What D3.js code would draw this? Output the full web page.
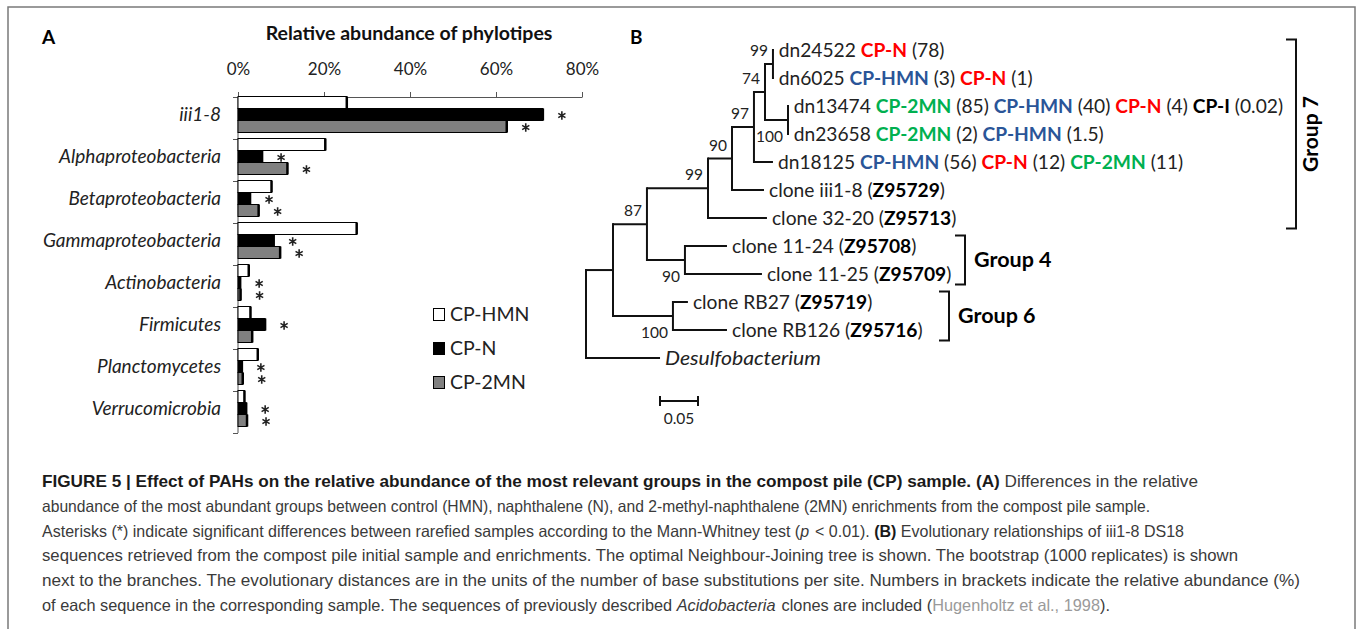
<!DOCTYPE html>
<html>
<head>
<meta charset="utf-8">
<script src="https://cdn.jsdelivr.net/npm/d3@7"></script>
<style>
  body { margin: 0; background: #fff; }
  svg { display: block; }
</style>
</head>
<body>
<div id="chart"></div>
<script>
// ---- panel A data (relative abundance, %) ----
var categories = ["iii1-8", "Alphaproteobacteria", "Betaproteobacteria", "Gammaproteobacteria",
                  "Actinobacteria", "Firmicutes", "Planctomycetes", "Verrucomicrobia"];
var seriesNames = ["CP-HMN", "CP-N", "CP-2MN"];
var hmnValues = [25.3, 20.3, 7.8, 27.6, 2.5, 2.9, 4.6, 1.5];
var nValues   = [70.9, 5.6, 2.8, 8.3, 0.5, 6.3, 0.9, 1.9];
var mnValues  = [62.5, 11.5, 4.8, 9.8, 0.6, 3.3, 1.1, 2.1];
// significance asterisks (1 = shown)
var nSignif  = [1, 1, 1, 1, 1, 1, 1, 1];
var mnSignif = [1, 1, 1, 1, 1, 0, 1, 1];
var xTicks = [0, 20, 40, 60, 80];

// ---- panel B data (neighbour-joining tree, branch lengths in subst./site) ----
var treeNodes = [
  { id: "root", parent: "", len: 0 },
  { id: "n1", parent: "root", len: 0.0355 },
  { id: "n87", parent: "n1", len: 0.0447 },
  { id: "n99b", parent: "n87", len: 0.0803 },
  { id: "n90", parent: "n99b", len: 0.0316 },
  { id: "n97", parent: "n90", len: 0.0289 },
  { id: "n74", parent: "n97", len: 0.0145 },
  { id: "n99", parent: "n74", len: 0.0105 },
  { id: "dn24522", parent: "n99", len: 0.001 },
  { id: "dn6025", parent: "n99", len: 0.001 },
  { id: "n100", parent: "n74", len: 0.0303 },
  { id: "dn13474", parent: "n100", len: 0.001 },
  { id: "dn23658", parent: "n100", len: 0.001 },
  { id: "dn18125", parent: "n97", len: 0.025 },
  { id: "iii1-8", parent: "n90", len: 0.0421 },
  { id: "32-20", parent: "n99b", len: 0.0776 },
  { id: "n90b", parent: "n87", len: 0.05 },
  { id: "11-24", parent: "n90b", len: 0.0553 },
  { id: "11-25", parent: "n90b", len: 0.1013 },
  { id: "n100b", parent: "n1", len: 0.0789 },
  { id: "RB27", parent: "n100b", len: 0.0197 },
  { id: "RB126", parent: "n100b", len: 0.0711 },
  { id: "Desulfobacterium", parent: "root", len: 0.0974 }
];
var bootstrap = [
  { node: "n99", value: 99, above: true },
  { node: "n74", value: 74, above: true },
  { node: "n97", value: 97, above: true },
  { node: "n100", value: 100, above: false },
  { node: "n90", value: 90, above: true },
  { node: "n99b", value: 99, above: true },
  { node: "n87", value: 87, above: true },
  { node: "n90b", value: 90, above: false },
  { node: "n100b", value: 100, above: false }
];
// label pieces: [text, kind]  kind: "" plain, N/HMN/MN coloured sample, B bold, I italic
var leafLabels = {
  "dn24522": [["dn24522 ", ""], ["CP-N", "N"], [" (78)", ""]],
  "dn6025": [["dn6025 ", ""], ["CP-HMN", "HMN"], [" (3) ", ""], ["CP-N", "N"], [" (1)", ""]],
  "dn13474": [["dn13474 ", ""], ["CP-2MN", "MN"], [" (85) ", ""], ["CP-HMN", "HMN"], [" (40) ", ""],
              ["CP-N", "N"], [" (4) ", ""], ["CP-I", "B"], [" (0.02)", ""]],
  "dn23658": [["dn23658 ", ""], ["CP-2MN", "MN"], [" (2) ", ""], ["CP-HMN", "HMN"], [" (1.5)", ""]],
  "dn18125": [["dn18125 ", ""], ["CP-HMN", "HMN"], [" (56) ", ""], ["CP-N", "N"], [" (12) ", ""],
              ["CP-2MN", "MN"], [" (11)", ""]],
  "iii1-8": [["clone iii1-8 (", ""], ["Z95729", "B"], [")", ""]],
  "32-20": [["clone 32-20 (", ""], ["Z95713", "B"], [")", ""]],
  "11-24": [["clone 11-24 (", ""], ["Z95708", "B"], [")", ""]],
  "11-25": [["clone 11-25 (", ""], ["Z95709", "B"], [")", ""]],
  "RB27": [["clone RB27 (", ""], ["Z95719", "B"], [")", ""]],
  "RB126": [["clone RB126 (", ""], ["Z95716", "B"], [")", ""]],
  "Desulfobacterium": [["Desulfobacterium", "I"]]
};
var groups = [
  { name: "Group 7", first: "dn24522", last: "32-20", x: 1296, vertical: true },
  { name: "Group 4", first: "11-24", last: "11-25", x: 965, vertical: false },
  { name: "Group 6", first: "RB27", last: "RB126", x: 949, vertical: false }
];
var scaleBarValue = 0.05;

// ---- caption ----
var captionLines = [
  [["FIGURE 5 | Effect of PAHs on the relative abundance of the most relevant groups in the compost pile (CP) sample. (A)", "B"], [" Differences in the relative", ""]],
  [["abundance of the most abundant groups between control (HMN), naphthalene (N), and 2-methyl-naphthalene (2MN) enrichments from the compost pile sample.", ""]],
  [["Asterisks (*) indicate significant differences between rarefied samples according to the Mann-Whitney test (", ""], ["p", "I"], [" < 0.01). ", ""], ["(B)", "B"], [" Evolutionary relationships of iii1-8 DS18", ""]],
  [["sequences retrieved from the compost pile initial sample and enrichments. The optimal Neighbour-Joining tree is shown. The bootstrap (1000 replicates) is shown", ""]],
  [["next to the branches. The evolutionary distances are in the units of the number of base substitutions per site. Numbers in brackets indicate the relative abundance (%)", ""]],
  [["of each sequence in the corresponding sample. The sequences of previously described ", ""], ["Acidobacteria", "I"], [" clones are included (", ""], ["Hugenholtz et al., 1998", "L"], [").", ""]]
];
var captionLineEnds = [1198, 1150, 1184, 1238, 1300, 1110];

var W = 1358, H = 629;
var FONT = "Lato, 'Open Sans', sans-serif";
var CAPFONT = "'Liberation Sans', Arial, sans-serif";
var sampleColor = { N: "#ff0000", HMN: "#2a5598", MN: "#00b050" };

var svg = d3.select("#chart").append("svg").attr("width", W).attr("height", H)
  .style("font-family", FONT);

// outer frame
svg.append("rect").attr("x", 8).attr("y", 7).attr("width", 1347).attr("height", 640)
  .attr("fill", "none").attr("stroke", "#7a7a7a").attr("stroke-width", 1.5);

// ================= Panel A =================
var x = d3.scaleLinear().domain([0, 80]).range([238, 582]);
var y = d3.scaleBand().domain(categories).range([96.5, 432.5]);
var ySub = d3.scaleBand().domain(seriesNames).range([0, 36]);
var fills = { "CP-HMN": "#ffffff", "CP-N": "#000000", "CP-2MN": "#808080" };

svg.append("text").attr("x", 42).attr("y", 44).attr("font-size", 19).attr("font-weight", 700).text("A");
svg.append("text").attr("x", 409).attr("y", 40).attr("text-anchor", "middle")
  .attr("font-size", 19.5).attr("font-weight", 700).attr("fill", "#111").text("Relative abundance of phylotipes");

var xAxisG = svg.append("g").attr("transform", "translate(0,97)")
  .call(d3.axisTop(x).tickValues(xTicks).tickFormat(function(d) { return d + "%"; }).tickSizeInner(5).tickSizeOuter(0));
xAxisG.select(".domain").attr("stroke", "#555");
xAxisG.selectAll("line").attr("stroke", "#555");
xAxisG.selectAll("text").attr("font-family", FONT).attr("font-size", 17).attr("fill", "#222").attr("dy", "-0.8em");

// y axis line and boundary ticks
svg.append("line").attr("x1", 238).attr("x2", 238).attr("y1", 97).attr("y2", 433).attr("stroke", "#555");
var bounds = categories.map(function(c) { return y(c); }).concat([y.range()[1]]);
svg.selectAll(".ytick").data(bounds).enter().append("line")
  .attr("x1", 233).attr("x2", 238).attr("y1", function(d) { return Math.round(d) + 0.5; })
  .attr("y2", function(d) { return Math.round(d) + 0.5; }).attr("stroke", "#555");

svg.selectAll(".cat").data(categories).enter().append("text")
  .attr("x", 221).attr("y", function(d) { return y(d) + ySub("CP-N") + ySub.bandwidth() / 2 + 6.5; })
  .attr("text-anchor", "end").attr("font-style", "italic").attr("font-size", 19).attr("fill", "#222")
  .text(function(d) { return d; });

var barRows = [];
categories.forEach(function(c, i) {
  barRows.push({ cat: c, s: "CP-HMN", v: hmnValues[i], sig: 0 });
  barRows.push({ cat: c, s: "CP-N", v: nValues[i], sig: nSignif[i] });
  barRows.push({ cat: c, s: "CP-2MN", v: mnValues[i], sig: mnSignif[i] });
});

var barG = svg.append("g");
barG.selectAll("rect").data(barRows).enter().append("rect")
  .attr("x", x(0))
  .attr("y", function(d) { return y(d.cat) + ySub(d.s); })
  .attr("width", function(d) { return x(d.v) - x(0); })
  .attr("height", ySub.bandwidth())
  .attr("fill", function(d) { return fills[d.s]; })
  .attr("stroke", "#000").attr("stroke-width", 1);
// darker right edge
barG.selectAll("line").data(barRows).enter().append("line")
  .attr("x1", function(d) { return x(d.v); }).attr("x2", function(d) { return x(d.v); })
  .attr("y1", function(d) { return y(d.cat) + ySub(d.s); })
  .attr("y2", function(d) { return y(d.cat) + ySub(d.s) + ySub.bandwidth(); })
  .attr("stroke", "#000").attr("stroke-width", 2.5);

var star = d3.symbol().type(d3.symbolAsterisk).size(48);
svg.selectAll(".star").data(barRows.filter(function(d) { return d.sig; })).enter().append("path")
  .attr("d", star)
  .attr("transform", function(d) {
    return "translate(" + (x(d.v) + 19) + "," + (y(d.cat) + ySub(d.s) + ySub.bandwidth() / 2 + 1) + ")";
  })
  .attr("fill", "none").attr("stroke", "#222").attr("stroke-width", 1.6);

// legend
var legend = svg.selectAll(".leg").data(seriesNames).enter().append("g")
  .attr("transform", function(d, i) { return "translate(433," + (308 + i * 34) + ")"; });
legend.append("rect").attr("x", 0.5).attr("y", 0.5).attr("width", 11).attr("height", 12)
  .attr("fill", function(d) { return fills[d]; }).attr("stroke", "#000");
legend.append("text").attr("x", 17).attr("y", 12.5).attr("font-size", 19.5).attr("fill", "#222")
  .text(function(d) { return d; });

// ================= Panel B =================
svg.append("text").attr("x", 630).attr("y", 44).attr("font-size", 19).attr("font-weight", 700).text("B");

var root = d3.stratify().id(function(d) { return d.id; }).parentId(function(d) { return d.parent || null; })(treeNodes);
root.each(function(n) { n.depthLen = (n.parent ? n.parent.depthLen : 0) + n.data.len; });
var leaves = root.leaves();
var tx = d3.scaleLinear().domain([0, 0.05]).range([586, 624]);
var ty = d3.scalePoint().domain(leaves.map(function(l) { return l.id; })).range([50, 358]);
root.eachAfter(function(n) {
  n.px = tx(n.depthLen);
  n.py = n.children ? (n.children[0].py + n.children[n.children.length - 1].py) / 2 : ty(n.id);
});

var treeG = svg.append("g").attr("fill", "none").attr("stroke", "#111").attr("stroke-width", 2);
// horizontal branches
treeG.selectAll(".hb").data(root.descendants().filter(function(n) { return n.parent; })).enter().append("line")
  .attr("x1", function(n) { return n.parent.px; }).attr("x2", function(n) { return n.px; })
  .attr("y1", function(n) { return n.py; }).attr("y2", function(n) { return n.py; });
// vertical connectors
treeG.selectAll(".vb").data(root.descendants().filter(function(n) { return n.children; })).enter().append("line")
  .attr("x1", function(n) { return n.px; }).attr("x2", function(n) { return n.px; })
  .attr("y1", function(n) { return n.children[0].py - 1; })
  .attr("y2", function(n) { return n.children[n.children.length - 1].py + 1; });

var nodeById = {};
root.each(function(n) { nodeById[n.id] = n; });

svg.selectAll(".boot").data(bootstrap).enter().append("text")
  .attr("x", function(d) { return nodeById[d.node].px - 5; })
  .attr("y", function(d) { return nodeById[d.node].py + (d.above ? -8 : 22); })
  .attr("text-anchor", "end").attr("font-size", 15.5).attr("fill", "#222")
  .text(function(d) { return d.value; });

function styleSpan(sel, kind) {
  if (sampleColor[kind]) sel.attr("fill", sampleColor[kind]).attr("font-weight", 700);
  else if (kind === "B") sel.attr("font-weight", 700).attr("fill", "#000");
  else if (kind === "I") sel.attr("font-style", "italic");
}

leaves.forEach(function(l) {
  var t = svg.append("text").attr("x", l.px + 5).attr("y", l.py + 6.5)
    .attr("font-size", 19.2).attr("fill", "#222").attr("xml:space", "preserve");
  leafLabels[l.id].forEach(function(p) {
    styleSpan(t.append("tspan").text(p[0]), p[1]);
  });
  if (l.id === "Desulfobacterium") t.attr("textLength", 156).attr("lengthAdjust", "spacingAndGlyphs");
});

// group brackets
groups.forEach(function(g) {
  var y0 = ty(g.first) - 10.5, y1 = ty(g.last) + 10.5;
  svg.append("path").attr("d", "M" + (g.x - 10) + "," + y0 + "H" + g.x + "V" + y1 + "H" + (g.x - 10))
    .attr("fill", "none").attr("stroke", "#111").attr("stroke-width", 2);
  if (g.vertical) {
    svg.append("text").attr("transform", "translate(" + (g.x + 22) + "," + ((y0 + y1) / 2) + ") rotate(-90)")
      .attr("text-anchor", "middle").attr("font-size", 21).attr("font-weight", 700).text(g.name);
  } else {
    svg.append("text").attr("x", g.x + 9).attr("y", (y0 + y1) / 2 + 7)
      .attr("font-size", 21.5).attr("font-weight", 700).text(g.name);
  }
});

// scale bar
var sb0 = 660, sbY = 401;
var sbW = tx(scaleBarValue) - tx(0);
svg.append("path").attr("d", "M" + sb0 + "," + (sbY - 5) + "V" + (sbY + 5) + "M" + sb0 + "," + sbY + "H" + (sb0 + sbW) +
  "M" + (sb0 + sbW) + "," + (sbY - 5) + "V" + (sbY + 5))
  .attr("fill", "none").attr("stroke", "#111").attr("stroke-width", 2);
svg.append("text").attr("x", sb0 + sbW / 2).attr("y", 424).attr("text-anchor", "middle")
  .attr("font-size", 15.5).attr("fill", "#222").text(scaleBarValue.toFixed(2));

// ================= Caption =================
var capG = svg.append("g").style("font-family", CAPFONT);
captionLines.forEach(function(line, i) {
  var t = capG.append("text").attr("x", 42).attr("y", 487 + i * 24.8).attr("font-size", 16.5)
    .attr("fill", "#3a3a3a").attr("xml:space", "preserve")
    .attr("textLength", captionLineEnds[i] - 42).attr("lengthAdjust", "spacingAndGlyphs");
  var prevItalic = false;
  line.forEach(function(p) {
    var s = t.append("tspan").text(p[0]);
    if (prevItalic) s.attr("dx", 1.5);   // room after the italic overhang
    if (p[1] === "B") s.attr("font-weight", 700).attr("fill", "#1a1a1a");
    if (p[1] === "I") s.attr("font-style", "italic");
    if (p[1] === "L") s.attr("fill", "#9a9a9a");
    prevItalic = p[1] === "I";
  });
});
</script>
</body>
</html>
